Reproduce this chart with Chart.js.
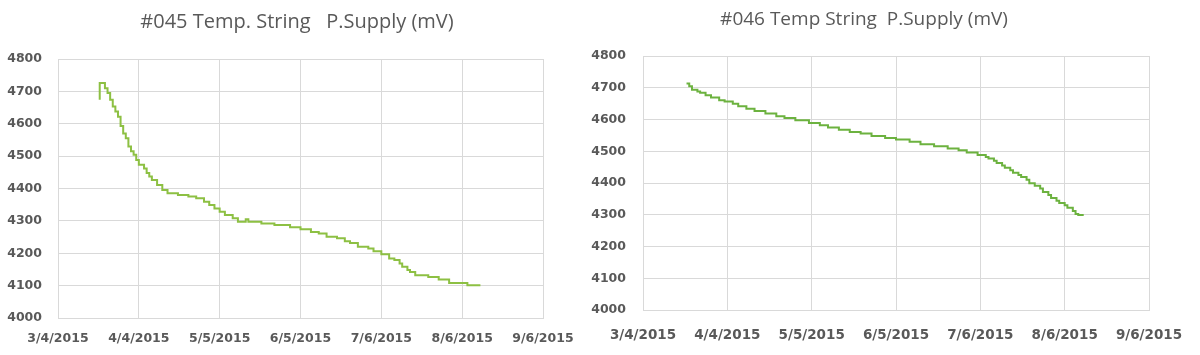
<!DOCTYPE html>
<html>
<head>
<meta charset="utf-8">
<script src="https://cdn.jsdelivr.net/npm/chart.js@4.4.1/dist/chart.umd.min.js"></script>
<style>
  html, body { margin: 0; padding: 0; background: #ffffff; }
  body { width: 1200px; height: 355px; position: relative; overflow: hidden; }
  canvas { position: absolute; top: 0; }
  #c045 { left: 0px; }
  #c046 { left: 575px; }
</style>
</head>
<body>
<canvas id="c045" width="600" height="355"></canvas>
<canvas id="c046" width="625" height="355"></canvas>
<script>
// ---------------- data ----------------
const startDate = '2015-03-04';
const endDate = '2015-09-06';
const tickStepDays = 31;
const yTicks = [4000, 4100, 4200, 4300, 4400, 4500, 4600, 4700, 4800];

const title045 = '#045 Temp. String   P.Supply (mV)';
const dates045 = [
  '2015-03-20','2015-03-20','2015-03-22','2015-03-23','2015-03-24','2015-03-25','2015-03-26','2015-03-27',
  '2015-03-28','2015-03-29','2015-03-30','2015-03-31','2015-04-01','2015-04-02','2015-04-03','2015-04-04',
  '2015-04-06','2015-04-07','2015-04-08','2015-04-09','2015-04-11','2015-04-13','2015-04-15','2015-04-19',
  '2015-04-23','2015-04-26','2015-04-29','2015-05-01','2015-05-03','2015-05-05','2015-05-07','2015-05-10',
  '2015-05-12','2015-05-15','2015-05-16','2015-05-21','2015-05-26','2015-06-01','2015-06-05','2015-06-09',
  '2015-06-12','2015-06-15','2015-06-19','2015-06-22','2015-06-24','2015-06-27','2015-07-01','2015-07-03',
  '2015-07-06','2015-07-09','2015-07-11','2015-07-13','2015-07-14','2015-07-16','2015-07-17','2015-07-19',
  '2015-07-24','2015-07-28','2015-08-01','2015-08-08','2015-08-13'
];
const values045 = [
  4674, 4726, 4710, 4695, 4674, 4653, 4638, 4622,
  4593, 4570, 4555, 4530, 4515, 4504, 4488, 4473,
  4462, 4448, 4437, 4426, 4411, 4395, 4385, 4380,
  4375, 4370, 4359, 4349, 4338, 4328, 4318, 4308,
  4297, 4305, 4297, 4292, 4287, 4280, 4274, 4266,
  4261, 4251, 4246, 4237, 4232, 4220, 4215, 4206,
  4197, 4184, 4179, 4168, 4158, 4148, 4142, 4132,
  4127, 4119, 4108, 4101, 4101
];

const title046 = '#046 Temp String  P.Supply (mV)';
const dates046 = [
  '2015-03-20','2015-03-21','2015-03-22','2015-03-24','2015-03-25','2015-03-27','2015-03-29','2015-04-01',
  '2015-04-03','2015-04-06','2015-04-08','2015-04-11','2015-04-14','2015-04-18','2015-04-22','2015-04-25',
  '2015-04-29','2015-05-04','2015-05-08','2015-05-11','2015-05-15','2015-05-19','2015-05-23','2015-05-27',
  '2015-06-01','2015-06-05','2015-06-10','2015-06-14','2015-06-19','2015-06-24','2015-06-28','2015-07-01',
  '2015-07-05','2015-07-08','2015-07-09','2015-07-11','2015-07-12','2015-07-14','2015-07-15','2015-07-17',
  '2015-07-18','2015-07-20','2015-07-21','2015-07-23','2015-07-24','2015-07-26','2015-07-28','2015-07-29',
  '2015-07-31','2015-08-01','2015-08-03','2015-08-04','2015-08-06','2015-08-07','2015-08-09','2015-08-10',
  '2015-08-11','2015-08-13'
];
const values046 = [
  4713, 4705, 4694, 4688, 4684, 4676, 4669, 4661,
  4657, 4650, 4642, 4634, 4627, 4619, 4610, 4605,
  4598, 4589, 4582, 4575, 4568, 4561, 4556, 4548,
  4542, 4537, 4530, 4522, 4516, 4509, 4503, 4496,
  4488, 4482, 4477, 4470, 4463, 4455, 4448, 4440,
  4432, 4425, 4419, 4410, 4399, 4391, 4383, 4372,
  4362, 4353, 4344, 4337, 4330, 4322, 4312, 4302,
  4299, 4299
];

// ---------------- helpers ----------------
function utc(s) { const p = s.split('-').map(Number); return Date.UTC(p[0], p[1] - 1, p[2]); }
const t0 = utc(startDate);
const dayOf = s => (utc(s) - t0) / 86400000;
const spanDays = dayOf(endDate);
function fmtDay(v) {
  const d = new Date(t0 + v * 86400000);
  return (d.getUTCMonth() + 1) + '/' + d.getUTCDate() + '/' + d.getUTCFullYear();
}
const toPoints = (dates, vals) => dates.map((d, i) => ({ x: dayOf(d), y: vals[i] }));

const titlePlugin = {
  id: 'posTitle',
  afterDraw(chart, args, o) {
    const ctx = chart.ctx;
    ctx.save();
    ctx.font = o.font;
    ctx.fillStyle = o.color;
    ctx.textAlign = 'center';
    ctx.textBaseline = 'middle';
    ctx.fillText(o.text, o.x, o.y);
    ctx.restore();
  }
};

const GRID = '#d9d9d9';
const TXT = '#595959';

function makeChart(id, cfg) {
  return new Chart(document.getElementById(id), {
    type: 'line',
    data: {
      datasets: [{
        data: toPoints(cfg.dates, cfg.values),
        borderColor: cfg.color,
        borderWidth: 2,
        pointRadius: 0,
        stepped: true,
        fill: false,
        tension: 0
      }]
    },
    plugins: [titlePlugin],
    options: {
      responsive: false,
      animation: false,
      devicePixelRatio: 1,
      layout: { padding: { left: 0, right: cfg.padRight, top: cfg.padTop, bottom: 0 } },
      plugins: {
        legend: { display: false },
        tooltip: { enabled: false },
        title: { display: false },
        posTitle: { text: cfg.title, x: cfg.titleX, y: cfg.titleY, font: cfg.titleFont, color: TXT }
      },
      scales: {
        x: {
          type: 'linear',
          min: 0, max: spanDays,
          afterBuildTicks: s => { s.ticks = []; for (let v = 0; v <= spanDays; v += tickStepDays) s.ticks.push({ value: v }); },
          afterFit: s => { s.height = cfg.xHeight; },
          grid: { color: GRID, lineWidth: 1, drawTicks: false },
          border: { display: true, color: GRID, width: 1 },
          ticks: {
            callback: v => fmtDay(v),
            maxRotation: 0, autoSkip: false,
            padding: cfg.xPad,
            color: TXT,
            font: { family: 'DejaVu Sans', size: cfg.xFont, weight: 'bold' }
          }
        },
        y: {
          min: yTicks[0], max: yTicks[yTicks.length - 1],
          afterBuildTicks: s => { s.ticks = yTicks.map(v => ({ value: v })); },
          afterFit: s => { s.width = cfg.yWidth; },
          grid: { color: GRID, lineWidth: 1, drawTicks: false },
          border: { display: true, color: GRID, width: 1 },
          ticks: {
            callback: v => String(v),
            padding: cfg.yPad,
            color: TXT,
            font: { family: 'DejaVu Sans', size: 12.5, weight: 'bold' }
          }
        }
      }
    }
  });
}

makeChart('c045', {
  dates: dates045, values: values045, color: '#8dc043', title: title045,
  titleX: 297, titleY: 22, titleFont: '20px "Open Sans"',
  padRight: 57, padTop: 59, xHeight: 37, xPad: 13, xFont: 12.5, yWidth: 58, yPad: 16
});
makeChart('c046', {
  dates: dates046, values: values046, color: '#6cb23f', title: title046,
  titleX: 289, titleY: 20, titleFont: '19px "Open Sans"',
  padRight: 51, padTop: 56, xHeight: 45, xPad: 17, xFont: 13.5, yWidth: 68, yPad: 17
});
</script>
</body>
</html>
